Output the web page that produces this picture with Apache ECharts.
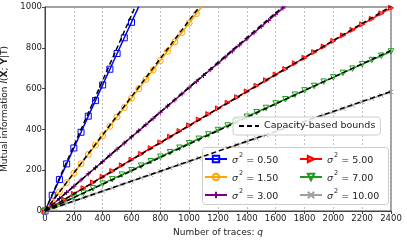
<!DOCTYPE html>
<html><head><meta charset="utf-8">
<script src="https://cdn.jsdelivr.net/npm/echarts@6/dist/echarts.min.js"></script>
<style>html,body{margin:0;padding:0;background:#fff}#c{width:407px;height:241px}</style>
</head><body><div id="c"></div>
<script>
// ---- data ----
const xTicks = [0,200,400,600,800,1000,1200,1400,1600,1800,2000,2200,2400];
const yTicks = [0,200,400,600,800,1000];
const qBlue = [0,50,100,150,200,250,300,350,400,450,500,550,600,650];
const vBlue = [0,77,154,231,309,386,465,541,618,695,772,849,925,1002];
const qOrange = [0,50,100,150,200,250,300,350,400,450,500,550,600,650,700,750,800,850,900,950,1000,1050,1100];
const vOrange = [0,46,93,139,185,231,277,323,369,415,461,507,553,599,645,691,737,783,829,875,921,967,1013];
const qPurple = [0,50,100,150,200,250,300,350,400,450,500,550,600,650,700,750,800,850,900,950,1000,1050,1100,1150,1200,1250,1300,1350,1400,1450,1500,1550,1600,1650,1700];
const vPurple = [0,30,61,91,121,152,182,212,242,273,303,333,363,393,423,453,484,514,544,574,604,634,664,694,724,754,784,814,844,874,904,934,964,994,1024];
const qLong = [0,67,133,200,267,333,400,467,533,600,667,733,800,867,933,1000,1067,1133,1200,1267,1333,1400,1467,1533,1600,1667,1733,1800,1867,1933,2000,2067,2133,2200,2267,2333,2400];
const vRed = [0,28,56,84,112,140,168,196,224,252,280,308,336,364,392,420,448,475,503,531,558,586,614,641,669,696,724,751,779,806,834,861,888,915,942,969,996];
const vGreen = [0,22,45,67,89,111,134,156,178,200,222,244,266,288,310,332,354,375,397,419,440,462,484,505,527,548,570,591,613,634,655,677,698,719,740,761,782];
const vGray = [0,16,32,49,65,81,97,113,130,146,162,178,194,211,227,243,259,275,292,308,324,340,356,373,389,405,421,437,454,470,486,502,518,535,551,567,583];
// capacity-based bound end points [q, value]
const boundBlue = [[0,0],[625,1000]];
const boundOrange = [[0,0],[1070,1000]];
const boundPurple = [[0,0],[1648,1000]];
const boundRed = [[0,0],[2400,1003]];
const boundGreen = [[0,0],[2400,787]];
const boundGray = [[0,0],[2400,586]];
const sigmaLabels = ['0.50','1.50','3.00','5.00','7.00','10.00'];

const pair = (qs, vs) => qs.map((q,i)=>[q, vs[i]]);
const F = 'DejaVu Sans';
const colors = ['#0000ff','#ffa500','#800080','#ff0000','#1f9a1f','#a0a0a0'];
const names = sigmaLabels.map(s => 'σ2 = ' + s);

function mkSeries(i, data, symbol, extra) {
  return Object.assign({
    type:'line', name:names[i], data:data, symbol:symbol, symbolSize:6,
    showSymbol:true, animation:false, z:3,
    lineStyle:{color:colors[i], width:1.5},
    itemStyle:{color:'rgba(255,255,255,0)', borderColor:colors[i], borderWidth:1}
  }, extra||{});
}
function bound(data) {
  return {type:'line', name:'Capacity-based bounds', data:data, symbol:'none', animation:false, z:5,
    lineStyle:{color:'#000', width:1.5, type:[5,3]}, itemStyle:{color:'#000'}};
}
const series = [
  mkSeries(0, pair(qBlue,vBlue), 'rect'),
  mkSeries(1, pair(qOrange,vOrange), 'circle'),
  mkSeries(2, pair(qPurple,vPurple), 'path://M5,0L5,10M0,5L10,5', {symbolSize:5}),
  mkSeries(3, pair(qLong,vRed), 'triangle', {symbolSize:5, symbolRotate:-90, itemStyle:{color:'#ff6060', borderColor:colors[3], borderWidth:1}}),
  mkSeries(4, pair(qLong,vGreen), 'triangle', {symbolSize:5.5, symbolRotate:180}),
  mkSeries(5, pair(qLong,vGray), 'path://M0,0L10,10M10,0L0,10', {symbolSize:4.5}),
  bound(boundBlue), bound(boundOrange), bound(boundPurple),
  bound(boundRed), bound(boundGreen), bound(boundGray)
];
const sigRich = {
  s:{fontFamily:F, fontStyle:'italic', fontSize:9.5, color:'#222', verticalAlign:'bottom', lineHeight:14},
  p:{fontFamily:F, fontSize:6.5, color:'#222', verticalAlign:'top', lineHeight:14, padding:[0,0,0,1]},
  t:{fontFamily:F, fontSize:9.5, color:'#222', verticalAlign:'bottom', lineHeight:14}
};
const sigFmt = n => '{s|σ}{p|2}{t| = ' + n.split('= ')[1] + '}';
const legCommon = {orient:'vertical', itemWidth:22, itemHeight:8, itemGap:4, padding:0, z:6,
  textStyle:{rich:sigRich}, formatter:sigFmt};

const chart = echarts.init(document.getElementById('c'), null, {renderer:'canvas'});
chart.setOption({
  animation:false,
  grid:{left:45, right:16, top:7, bottom:30, containLabel:false, outerBoundsMode:'none',
    show:true, borderColor:'#444', borderWidth:1, backgroundColor:'transparent'},
  xAxis:{type:'value', min:0, max:2400, interval:200,
    axisLine:{show:true, lineStyle:{color:'#444'}}, axisTick:{show:true, length:3, lineStyle:{color:'#444'}},
    axisLabel:{fontFamily:F, fontSize:8.5, color:'#222', margin:3, formatter:v=>String(v)},
    splitLine:{show:true, lineStyle:{color:'#b0b0b0', type:[2,2], width:0.8}},
    name:'Number of traces: {i|q}', nameLocation:'middle', nameGap:16,
    nameTextStyle:{fontFamily:F, fontSize:9, color:'#222', rich:{i:{fontFamily:F, fontSize:9, fontStyle:'italic', color:'#222'}}}
  },
  yAxis:{type:'value', min:0, max:1000, interval:200,
    axisLine:{show:true, lineStyle:{color:'#444'}}, axisTick:{show:true, length:3, lineStyle:{color:'#444'}},
    axisLabel:{fontFamily:F, fontSize:8.5, color:'#222', margin:3, formatter:v=>String(v)},
    splitLine:{show:false},
    name:'Mutual information {i|I}({b|X}; {b|Y}|T)', nameLocation:'middle', nameGap:30, nameRotate:90,
    nameTextStyle:{fontFamily:F, fontSize:9, color:'#222', rich:{
      i:{fontFamily:F, fontSize:9, fontStyle:'italic', color:'#222'},
      b:{fontFamily:F, fontSize:9, fontWeight:'bold', color:'#222'}}}
  },
  graphic:{elements:[{type:'rect', z:4, shape:{x:202.5, y:147.5, width:186, height:57, r:3},
    style:{fill:'rgba(255,255,255,0.85)', stroke:'#cccccc', lineWidth:1}}]},
  legend:[
    {data:['Capacity-based bounds'], left:233, top:117, itemWidth:20, itemHeight:8, z:6,
     itemStyle:{color:'rgba(0,0,0,0)', borderWidth:0, opacity:0},
     padding:[4,5,4,5], backgroundColor:'rgba(255,255,255,0.85)', borderColor:'#cccccc', borderWidth:1, borderRadius:3,
     textStyle:{fontFamily:F, fontSize:9.5, color:'#222'}},
    Object.assign({data:names.slice(0,3), left:204, top:152}, legCommon),
    Object.assign({data:names.slice(3,6), left:299, top:152}, legCommon)
  ],
  series:series
});
</script></body></html>
